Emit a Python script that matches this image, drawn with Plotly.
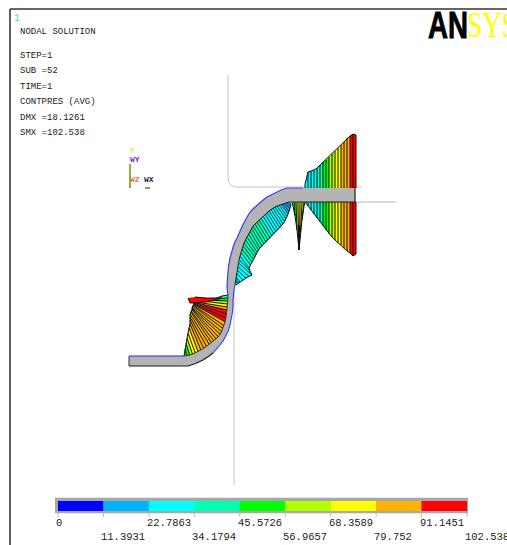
import plotly.graph_objects as go

# ---- contour scale ----
LEVELS = [0, 11.3931, 22.7863, 34.1794, 45.5726, 56.9657, 68.3589, 79.752, 91.1451, 102.538]
LEVEL_LABELS = ["0", "11.3931", "22.7863", "34.1794", "45.5726", "56.9657", "68.3589", "79.752", "91.1451", "102.538"]
BAND_COLORS = ["#0000ff", "#00b2ff", "#00ffff", "#00ffb2", "#00ff00", "#b2ff00", "#ffff00", "#ffb200", "#ff0000"]

# ---- header text ----
HEADER_LINES = ["NODAL SOLUTION", "STEP=1", "SUB =52", "TIME=1", "CONTPRES (AVG)", "DMX =18.1261", "SMX =102.538"]
HEADER_Y = [32, 56, 71, 87, 102, 118, 133]

# ---- sheet outline pieces ----
flat_top_x = [129, 183]
flat_top_y = [356, 356]
bend_inner_x = [183, 186, 190, 194, 198, 202.5, 207, 211, 215, 218, 221, 223, 225, 226.2, 227, 227.7, 228]
bend_inner_y = [356, 355.8, 355, 353.5, 351.5, 349, 346, 343, 340, 337, 333, 328, 322, 316, 310, 302, 295]
arc_outer_x = [228, 227.5, 227, 227.5, 228.3, 230, 232, 234, 237, 240, 243, 246.5, 250, 254, 258, 262.5, 267, 271.5, 276, 281, 287, 295, 303]
arc_outer_y = [295, 291, 288, 278, 268, 258, 250, 244, 238, 231, 224.5, 218, 212, 208, 204, 200.5, 197, 194.5, 192, 190, 188, 188, 188]
flange_end_x = [355, 355]
flange_end_y = [188, 202]
flat_bot_x = [129, 188]
flat_bot_y = [366, 366]
bend_dark_x = [188, 195.5, 203, 208, 213]
bend_dark_y = [366, 363.5, 360, 356.8, 353]
bend_blue_x = [213, 217, 220, 223.2, 226, 228.2, 230, 231.5, 232.5, 233, 233, 233.8, 235]
bend_blue_y = [353, 349, 345, 340.7, 336, 331, 325, 318.5, 312, 306, 300, 292, 284]

# ---- flange pressure, top face (station, outline, band per strip) ----
top_x = [305, 308, 311, 314, 317, 320, 323, 326, 329, 332, 335, 338, 341, 344, 347, 350, 353, 356]
top_y = [184, 172, 171, 170, 168, 165, 162, 160, 157, 154, 151, 148, 145, 142, 138, 136, 134, 135]
top_band = [2, 2, 2, 2, 3, 3, 4, 4, 5, 5, 6, 6, 7, 7, 7, 8, 8]
TOP_FACE_Y = 188

# ---- flange pressure, bottom face ----
bot_y = [202, 206, 210, 214, 218, 222, 226, 230, 234, 237, 240, 243, 245, 248, 251, 253, 256, 254]
BOT_FACE_Y = 202

# ---- narrow spike under the flange ----
spike_x = [292, 294, 296, 298, 300, 302, 304, 305]
spike_tip_x = [293, 295, 297, 298.5, 299.5, 300.5, 302, 304]
spike_tip_y = [206, 216, 230, 245, 245, 232, 220, 206]
spike_band = [2, 4, 5, 6, 6, 5, 3]

# ---- wall fan (cyan region below the upper bend) ----
wall_base_x = [235, 235.5, 236, 236.5, 237, 237.7, 238.5, 239.2, 240, 241, 242, 243, 244, 245.5, 247, 248.5, 250, 251.5, 253, 255, 257, 259, 261, 263, 265, 267, 269, 271, 273, 275, 277, 279, 281, 283, 285, 287, 289]
wall_base_y = [284, 280.5, 277, 273.5, 270, 266.5, 263, 259.5, 256, 252.5, 249, 246, 243, 240, 237, 234, 231, 228.5, 226, 224, 222, 220, 218, 216, 214, 212.5, 211, 209.5, 208, 207, 206, 205.2, 204.5, 203.8, 203, 202.5, 202]
wall_out_x = [236, 238, 240, 243, 246, 249, 252, 250, 249, 250.5, 252, 253.5, 255, 256, 257, 258.5, 260, 262, 264, 266, 268, 270, 272, 274, 276, 278, 280, 281.5, 283, 284.5, 286, 287, 288, 289, 290, 290.5, 291]
wall_out_y = [285, 283.5, 282, 280, 278, 276.5, 275, 271, 268, 265, 262, 259.5, 257, 254.5, 252, 250, 248, 246, 244, 242, 240, 238, 236, 234, 232, 230, 228, 226, 224, 221.5, 219, 216.5, 214, 211.5, 209, 206.5, 204]
wall_band = [1, 1, 2, 2, 2, 2, 2, 2, 2, 3, 3, 3, 3, 3, 3, 3, 3, 3, 3, 3, 3, 3, 2, 2, 2, 2, 2, 2, 2, 2, 2, 2, 1, 1, 1, 1]

# ---- radius fan (lower bend) ----
fan_base_x = [184, 187, 190, 193, 196, 199, 202, 205, 208, 211, 213, 215, 217, 219, 221, 222, 223.5, 224.5, 225.5, 226, 226.5, 227, 227.3, 227.5, 227.7, 227.9, 228]
fan_base_y = [356, 356, 356, 355.5, 355, 354, 352.5, 351, 349, 347, 345, 342.5, 340, 337.5, 335, 332, 329, 326, 322, 318, 314, 310, 307, 304, 301, 298, 295]
fan_out_x = [184, 185, 186, 187, 188, 189, 190, 190, 190, 190, 191, 191, 192, 192, 192, 192, 193, 193, 194, 194, 193, 192, 196, 202, 208, 214, 222]
fan_out_y = [356, 349, 343, 338, 333, 328, 324, 320, 317, 314, 312, 311, 310, 309, 308, 307, 306, 305, 304.5, 304, 303, 302, 302, 301, 300, 299, 296]
fan_band = [4, 4, 5, 6, 6, 7, 7, 7, 7, 7, 7, 7, 7, 7, 7, 7, 7, 7, 8, 8, 8, 7, 6, 5, 4, 2]

# ---- red crest at the top of the fan ----
crest_x = [188, 190, 206, 222, 206, 195]
crest_y = [298, 303, 302, 298, 298, 297]

# ---- thin reference lines ----
upper_ref_x = [228, 228, 229, 232, 236, 362]
upper_ref_y = [75, 178, 183, 186, 187, 187]
lower_ref_x = [234, 234]
lower_ref_y = [285, 485]
end_ref_x = [355, 396]
end_ref_y = [202, 202]

# ---- triad ----
triad_x = [130, 130]
triad_y = [164, 188]
triad_labels = ["Y", "WY", "WZ", "WX"]
triad_label_x = [130, 130, 130, 144]
triad_label_y = [150, 159, 179, 179]
triad_label_color = ["#b8ff40", "#7a22e0", "#e8703a", "#222244"]

fig = go.Figure()


def strips(xa, ya, xb, yb, bands, lw=1):
    """Fill quad strips by contour band, then outline them in black."""
    for b, color in enumerate(BAND_COLORS):
        px, py = [], []
        for i, band in enumerate(bands):
            if band == b:
                px += [xa[i], xb[i], xb[i + 1], xa[i + 1], xa[i], None]
                py += [ya[i], yb[i], yb[i + 1], ya[i + 1], ya[i], None]
        if px:
            fig.add_trace(go.Scatter(x=px, y=py, mode="lines", fill="toself", fillcolor=color,
                                     line=dict(width=0), hoverinfo="skip"))
    lx, ly = [], []
    for i in range(len(xa)):
        lx += [xa[i], xb[i], None]
        ly += [ya[i], yb[i], None]
    fig.add_trace(go.Scatter(x=lx, y=ly, mode="lines", line=dict(color="#101010", width=lw), hoverinfo="skip"))
    fig.add_trace(go.Scatter(x=xb, y=yb, mode="lines", line=dict(color="#101010", width=1), hoverinfo="skip"))


def line(x, y, color, width=1):
    fig.add_trace(go.Scatter(x=x, y=y, mode="lines", line=dict(color=color, width=width), hoverinfo="skip"))


# frame
line([10, 10], [545, 9], "#1a1a1a", 1.4)
line([10, 507], [9, 9], "#333333", 1.6)

# reference lines
line(upper_ref_x, upper_ref_y, "#c4c4c4", 1)
line(lower_ref_x, lower_ref_y, "#c4c4c4", 1)
line(end_ref_x, end_ref_y, "#b8b8b8", 1)

# pressure fans
strips(top_x, [TOP_FACE_Y] * len(top_x), top_x, top_y, top_band)
strips(top_x, [BOT_FACE_Y] * len(top_x), top_x, bot_y, top_band)
strips(spike_x, [BOT_FACE_Y] * len(spike_x), spike_tip_x, spike_tip_y, spike_band)
line([299, 299], [225, 250], "#101010", 2)
strips(wall_base_x, wall_base_y, wall_out_x, wall_out_y, wall_band, 0.8)
strips(fan_base_x, fan_base_y, fan_out_x, fan_out_y, fan_band)
fig.add_trace(go.Scatter(x=crest_x, y=crest_y, mode="lines", fill="toself", fillcolor="#ff0000",
                         line=dict(color="#101010", width=1), hoverinfo="skip"))

# sheet
sheet_x = flat_top_x + bend_inner_x + arc_outer_x + flange_end_x + wall_base_x[::-1] + bend_blue_x[::-1] + bend_dark_x[::-1] + flat_bot_x[::-1]
sheet_y = flat_top_y + bend_inner_y + arc_outer_y + flange_end_y + wall_base_y[::-1] + bend_blue_y[::-1] + bend_dark_y[::-1] + flat_bot_y[::-1]
fig.add_trace(go.Scatter(x=sheet_x, y=sheet_y, mode="lines", fill="toself", fillcolor="#b4b4b4",
                         line=dict(width=0), hoverinfo="skip"))
line(flat_bot_x + bend_dark_x, flat_bot_y + bend_dark_y, "#1a1a1a", 1.2)
line(wall_base_x + flange_end_x, wall_base_y + [202, 202], "#1a1a1a", 1)
line(bend_inner_x, bend_inner_y, "#333333", 1)
line(flange_end_x, flange_end_y, "#1a1a1a", 1.2)
line([129, 129], [356, 366], "#333333", 1)
line(flat_top_x, flat_top_y, "#2a2aff", 1.2)
line(arc_outer_x, arc_outer_y, "#3a3aff", 1.2)
line(bend_blue_x, bend_blue_y, "#3a3aff", 1.1)

# triad
line(triad_x, triad_y, "#7a9a10", 1.6)
line([145, 150], [188, 188], "#222222", 1)

# colour scale
BAR_LEFT, BAR_RIGHT = 58, 467
scale = (BAR_RIGHT - BAR_LEFT) / LEVELS[-1]
edges = [BAR_LEFT + v * scale for v in LEVELS]
fig.add_trace(go.Bar(x=[BAR_RIGHT + 1 - (BAR_LEFT - 3)], base=[BAR_LEFT - 3], y=[505.5], width=[15.5], orientation="h",
                     marker=dict(color="#a8a8a8", line=dict(width=0)), hoverinfo="skip"))
fig.add_trace(go.Bar(x=[edges[i + 1] - edges[i] for i in range(9)], base=edges[:9], y=[506] * 9, width=[10] * 9,
                     orientation="h", marker=dict(color=BAND_COLORS, line=dict(width=0)), hoverinfo="skip"))
tx, ty = [], []
for e in edges:
    tx += [e, e, None]
    ty += [513, 517, None]
line(tx, ty, "#bbbbbb", 1)

ann = []


def label(text, x, y, size, color="#1c1c1c", family="Liberation Mono", weight="normal"):
    ann.append(dict(text=text, x=x, y=y, xref="x", yref="y", xanchor="left", yanchor="middle",
                    showarrow=False, borderpad=0, borderwidth=0,
                    font=dict(family=family, size=size, color=color, weight=weight)))


for t, y in zip(HEADER_LINES, HEADER_Y):
    label(t, 20, y, 9)
label("1", 14, 18, 10, "#30e0e0")
for t, x, y, c in zip(triad_labels, triad_label_x, triad_label_y, triad_label_color):
    label(t, x, y, 8, c, weight="bold")
for i, t in enumerate(LEVEL_LABELS):
    label(t, edges[i] - 2, 523 if i % 2 == 0 else 537, 10.5)
label("AN", 422, 25, 36, "#000000", "Liberation Sans", "bold")
label("SYS", 459, 25, 36, "#ffff00", "Liberation Serif")

fig.update_layout(
    width=507, height=545, margin=dict(l=0, r=0, t=0, b=0), autosize=False,
    paper_bgcolor="white", plot_bgcolor="white", showlegend=False, barmode="overlay",
    xaxis=dict(range=[0, 507], visible=False, fixedrange=True),
    yaxis=dict(range=[545, 0], visible=False, fixedrange=True),
    annotations=ann,
)
post = """
document.body.style.margin='0';document.body.style.overflow='hidden';
function fitLogo(){document.querySelectorAll('.annotation-text').forEach(function(t){
  var s=t.textContent;
  if(s==='AN'){t.setAttribute('textLength','40');t.setAttribute('lengthAdjust','spacingAndGlyphs');t.style.stroke='#000';t.style.strokeWidth='0.8px';}
  if(s==='SYS'){t.setAttribute('textLength','50');t.setAttribute('lengthAdjust','spacingAndGlyphs');}
});}
fitLogo();setTimeout(fitLogo,50);
"""
fig.write_html("out.html", config=dict(displayModeBar=False), post_script=post)
